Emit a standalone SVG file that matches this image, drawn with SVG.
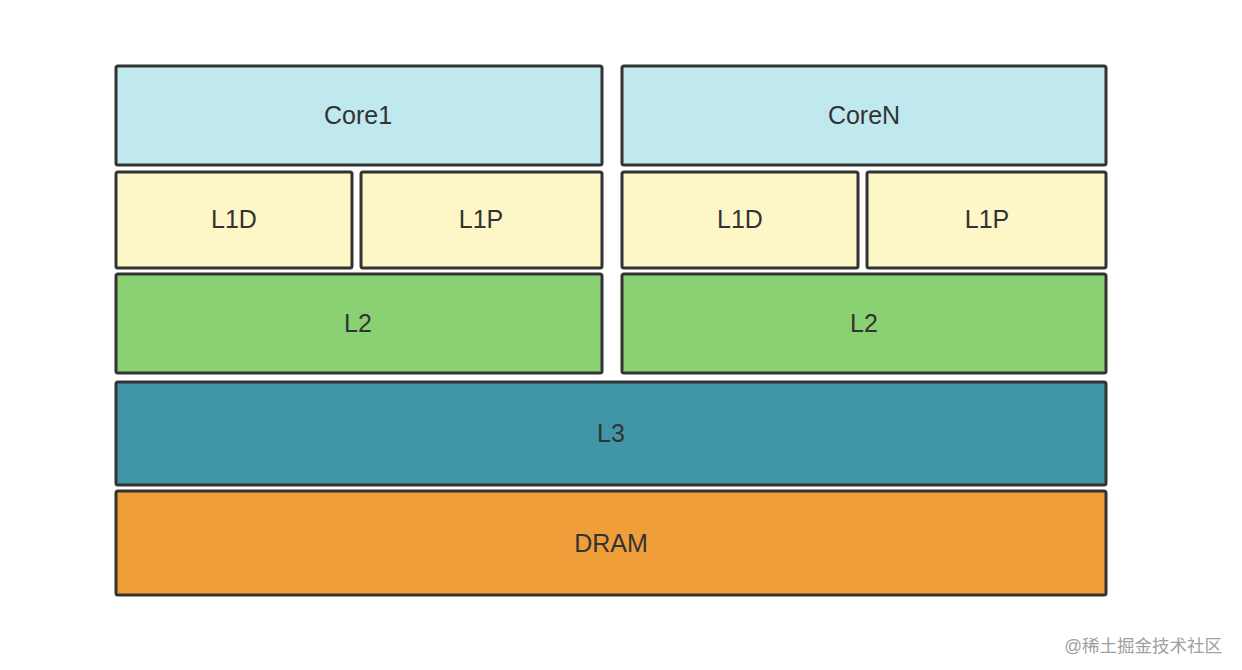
<svg xmlns="http://www.w3.org/2000/svg" width="1242" height="670" viewBox="0 0 1242 670">
<style>
rect.b{stroke:#333;stroke-width:3;rx:2}
.core{fill:#bfe9ef}.l1{fill:#fdf6c7}.l2{fill:#8ad173}.l3{fill:#4095a7}.dram{fill:#f09e3a}
text{font-family:"Liberation Sans",Arial,sans-serif;font-size:25px;fill:#333;text-anchor:middle;dominant-baseline:central}
text.wm{font-family:"Liberation Sans","Noto Sans CJK SC",sans-serif;font-size:17.5px;fill:#a0a0a0;text-anchor:end}
</style>
<rect width="1242" height="670" fill="#fff"/>
<g id="core1"><rect class="b core" x="116" y="66" width="486" height="99"/><text x="358" y="115">Core1</text></g>
<g id="coreN"><rect class="b core" x="622" y="66" width="484" height="99"/><text x="864" y="115">CoreN</text></g>
<g id="l1d1"><rect class="b l1" x="116" y="172" width="236" height="96"/><text x="234" y="219">L1D</text></g>
<g id="l1p1"><rect class="b l1" x="361" y="172" width="241" height="96"/><text x="481" y="219">L1P</text></g>
<g id="l1dN"><rect class="b l1" x="622" y="172" width="236" height="96"/><text x="740" y="219">L1D</text></g>
<g id="l1pN"><rect class="b l1" x="867" y="172" width="239" height="96"/><text x="987" y="219">L1P</text></g>
<g id="l2_1"><rect class="b l2" x="116" y="274" width="486" height="99"/><text x="358" y="323">L2</text></g>
<g id="l2_N"><rect class="b l2" x="622" y="274" width="484" height="99"/><text x="864" y="323">L2</text></g>
<g id="l3"><rect class="b l3" x="116" y="382" width="990" height="103"/><text x="611" y="433">L3</text></g>
<g id="dram"><rect class="b dram" x="116" y="491" width="990" height="104"/><text x="611" y="543">DRAM</text></g>
<g id="connectors"></g>
<text class="wm" x="1222" y="646">@稀土掘金技术社区</text>
</svg>
